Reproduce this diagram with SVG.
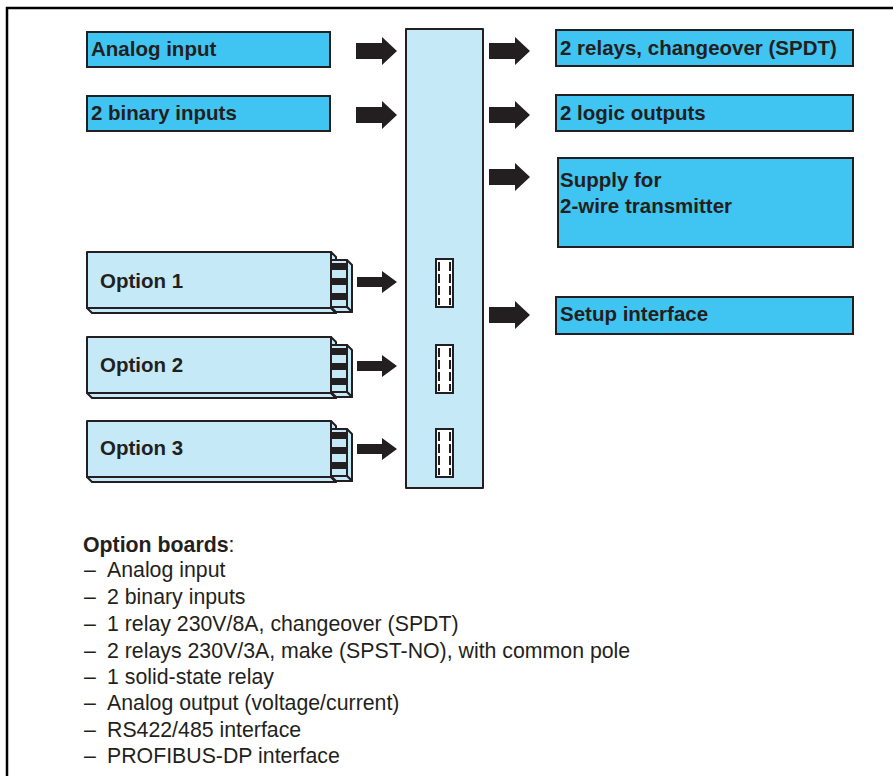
<svg xmlns="http://www.w3.org/2000/svg" xmlns:xlink="http://www.w3.org/1999/xlink" width="893" height="776" viewBox="0 0 893 776">
<style>
.frame{fill:none;stroke:#000;stroke-width:2.5}
.box{fill:#40c4f1;stroke:#231f20;stroke-width:2}
.lt{fill:#c6e9f8;stroke:#231f20;stroke-width:2;stroke-linejoin:round}
.arr{fill:#231f20}
.lbl{font-family:"Liberation Sans",Arial,sans-serif;font-weight:bold;font-size:20.5px;fill:#231f20}
.lst{font-family:"Liberation Sans",Arial,sans-serif;font-size:21.3px;fill:#231f20}
.slot{fill:#fff;stroke:#231f20;stroke-width:2}
.tick{fill:none;stroke:#231f20;stroke-width:2;stroke-dasharray:9 3}
</style>
<defs>
<g id="board">
<polygon class="lt" points="87,56 331,56 336,61 92,61"/>
<polygon class="lt" points="331,0 336,5 336,61 331,56"/>
<polygon class="lt" points="347,8 352,13 352,60 347,55"/>
<polygon class="lt" points="331,55 347,55 352,60 336,60"/>
<rect class="lt" x="331" y="8" width="16" height="47"/>
<rect class="arr" x="331" y="11" width="15" height="7"/>
<rect class="arr" x="331" y="26" width="15" height="7"/>
<rect class="arr" x="331" y="41" width="15" height="7"/>
<rect class="lt" x="87" y="0" width="244" height="56"/>
</g>
<g id="slot">
<rect class="slot" x="436" y="0" width="17" height="48"/>
<line class="tick" x1="439" y1="3" x2="439" y2="46"/>
<line class="tick" x1="450" y1="3" x2="450" y2="46"/>
</g>
<path id="bigR" d="M0,-8 H26 V-14 L41,0 L26,14 V8 H0 Z"/>
<path id="smR" d="M0,-5 H25 V-11 L40,0 L25,11 V5 H0 Z"/>
</defs>
<path class="frame" d="M6,8 H893 M7,7 V776"/>
<g id="bus">
<rect class="lt" x="406" y="29" width="77" height="459"/>
<use xlink:href="#slot" y="259"/>
<use xlink:href="#slot" y="345"/>
<use xlink:href="#slot" y="429"/>
</g>
<g id="analog-input">
<rect class="box" x="87" y="32" width="243" height="35"/>
<text class="lbl" x="91" y="56">Analog input</text>
</g>
<g id="binary-inputs">
<rect class="box" x="87" y="96" width="243" height="35"/>
<text class="lbl" x="91" y="120">2 binary inputs</text>
</g>
<g id="relays">
<rect class="box" x="556" y="30" width="297" height="36"/>
<text class="lbl" x="560" y="55">2 relays, changeover (SPDT)</text>
</g>
<g id="logic-outputs">
<rect class="box" x="556" y="95" width="297" height="36"/>
<text class="lbl" x="560" y="120">2 logic outputs</text>
</g>
<g id="supply">
<rect class="box" x="558" y="158" width="295" height="89"/>
<text class="lbl" x="560" y="187">Supply for</text>
<text class="lbl" x="560" y="213">2-wire transmitter</text>
</g>
<g id="setup">
<rect class="box" x="556" y="297" width="297" height="37"/>
<text class="lbl" x="560" y="321">Setup interface</text>
</g>
<g id="option1">
<use xlink:href="#board" y="252"/>
<text class="lbl" x="100" y="288">Option 1</text>
</g>
<g id="option2">
<use xlink:href="#board" y="337"/>
<text class="lbl" x="100" y="372">Option 2</text>
</g>
<g id="option3">
<use xlink:href="#board" y="421"/>
<text class="lbl" x="100" y="455">Option 3</text>
</g>
<g id="connectors" class="arr">
<use xlink:href="#bigR" x="356" y="51"/>
<use xlink:href="#bigR" x="356" y="115"/>
<use xlink:href="#bigR" x="489" y="51"/>
<use xlink:href="#bigR" x="489" y="115"/>
<use xlink:href="#bigR" x="489" y="177"/>
<use xlink:href="#bigR" x="489" y="315"/>
<use xlink:href="#smR" x="357" y="282"/>
<use xlink:href="#smR" x="357" y="366"/>
<use xlink:href="#smR" x="357" y="449"/>
</g>
<g id="option-list">
<text class="lst" x="83" y="552"><tspan font-weight="bold">Option boards</tspan>:</text>
<text class="lst" x="84" y="577">–</text><text class="lst" x="107" y="577">Analog input</text>
<text class="lst" x="84" y="604">–</text><text class="lst" x="107" y="604">2 binary inputs</text>
<text class="lst" x="84" y="631">–</text><text class="lst" x="107" y="631">1 relay 230V/8A, changeover (SPDT)</text>
<text class="lst" x="84" y="658">–</text><text class="lst" x="107" y="658">2 relays 230V/3A, make (SPST-NO), with common pole</text>
<text class="lst" x="84" y="684">–</text><text class="lst" x="107" y="684">1 solid-state relay</text>
<text class="lst" x="84" y="710">–</text><text class="lst" x="107" y="710">Analog output (voltage/current)</text>
<text class="lst" x="84" y="737">–</text><text class="lst" x="107" y="737">RS422/485 interface</text>
<text class="lst" x="84" y="763">–</text><text class="lst" x="107" y="763">PROFIBUS-DP interface</text>
</g>
</svg>
